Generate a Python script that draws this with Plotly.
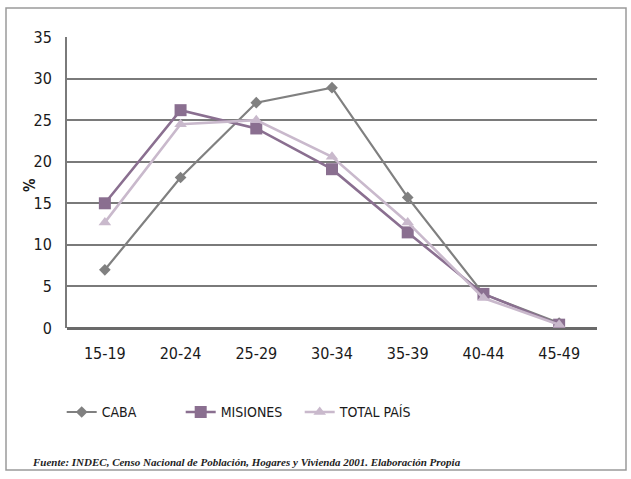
import plotly.graph_objects as go

# Age groups and share (%) per jurisdiction
age_groups = ["15-19", "20-24", "25-29", "30-34", "35-39", "40-44", "45-49"]
caba = [7.0, 18.1, 27.1, 28.9, 15.7, 4.1, 0.6]
misiones = [15.0, 26.2, 24.0, 19.1, 11.5, 4.1, 0.4]
total_pais = [12.7, 24.5, 25.0, 20.6, 12.7, 3.6, 0.4]
y_ticks = [0, 5, 10, 15, 20, 25, 30, 35]

narrow = "DejaVu Sans Condensed, Liberation Sans Narrow, Liberation Sans"
tick_font = dict(family=narrow, size=16, color="#1a1a1a")

fig = go.Figure()
fig.add_trace(go.Scatter(
    x=age_groups, y=caba, name="CABA", mode="lines+markers",
    line=dict(color="#808080", width=2.2),
    marker=dict(symbol="diamond", size=9, color="#808080"),
))
fig.add_trace(go.Scatter(
    x=age_groups, y=misiones, name="MISIONES", mode="lines+markers",
    line=dict(color="#8a6f90", width=2.6),
    marker=dict(symbol="square", size=12, color="#8a6f90"),
))
fig.add_trace(go.Scatter(
    x=age_groups, y=total_pais, name="TOTAL PAÍS", mode="lines+markers",
    line=dict(color="#c9b9cc", width=2.6),
    marker=dict(symbol="triangle-up", size=11, color="#c9b9cc"),
))

fig.update_layout(
    width=631, height=479,
    margin=dict(l=67, r=34, t=37, b=151),
    paper_bgcolor="white", plot_bgcolor="white",
    xaxis=dict(
        type="category", range=[-0.5, 6.5],
        showgrid=False, zeroline=False, showline=False,
        ticks="", tickfont=tick_font, ticklabelstandoff=14,
    ),
    yaxis=dict(
        range=[0, 35], tickvals=y_ticks, showgrid=True,
        gridcolor="#7a7a7a", gridwidth=2,
        showline=True, linecolor="#7a7a7a", linewidth=2,
        zeroline=True, zerolinecolor="#6a6a6a", zerolinewidth=3,
        ticks="", tickfont=tick_font, ticklabelstandoff=10,
    ),
    legend=dict(
        orientation="h", x=-0.01, xanchor="left", y=-0.29, yanchor="middle",
        font=dict(family=narrow, size=14, color="#1a1a1a"),
        itemwidth=30, entrywidth=74, entrywidthmode="pixels",
        traceorder="normal", bgcolor="rgba(0,0,0,0)",
    ),
    showlegend=True,
)

# Rotated unit label beside the value axis
fig.add_annotation(
    text="<b>%</b>", xref="paper", yref="paper", x=-37/530, y=(328-185)/291,
    textangle=-90, showarrow=False, xanchor="center", yanchor="middle",
    font=dict(family=narrow, size=15, color="#1a1a1a"),
)

# Outer frame around the chart
fig.add_shape(type="rect", xref="paper", yref="paper",
              x0=-61/530, x1=(626-67)/530, y0=-(470-328)/291, y1=(328-8)/291,
              line=dict(color="#9a9a9a", width=1.5), layer="below")

fig.add_annotation(
    text="<b><i>Fuente: INDEC, Censo Nacional de Población, Hogares y Vivienda 2001. Elaboración Propia</i></b>",
    xref="paper", yref="paper", x=-37/530, y=-(462-328)/291, xanchor="left", yanchor="middle",
    showarrow=False, font=dict(family="Liberation Serif", size=11, color="#222222"),
)

fig.write_html("out.html")
